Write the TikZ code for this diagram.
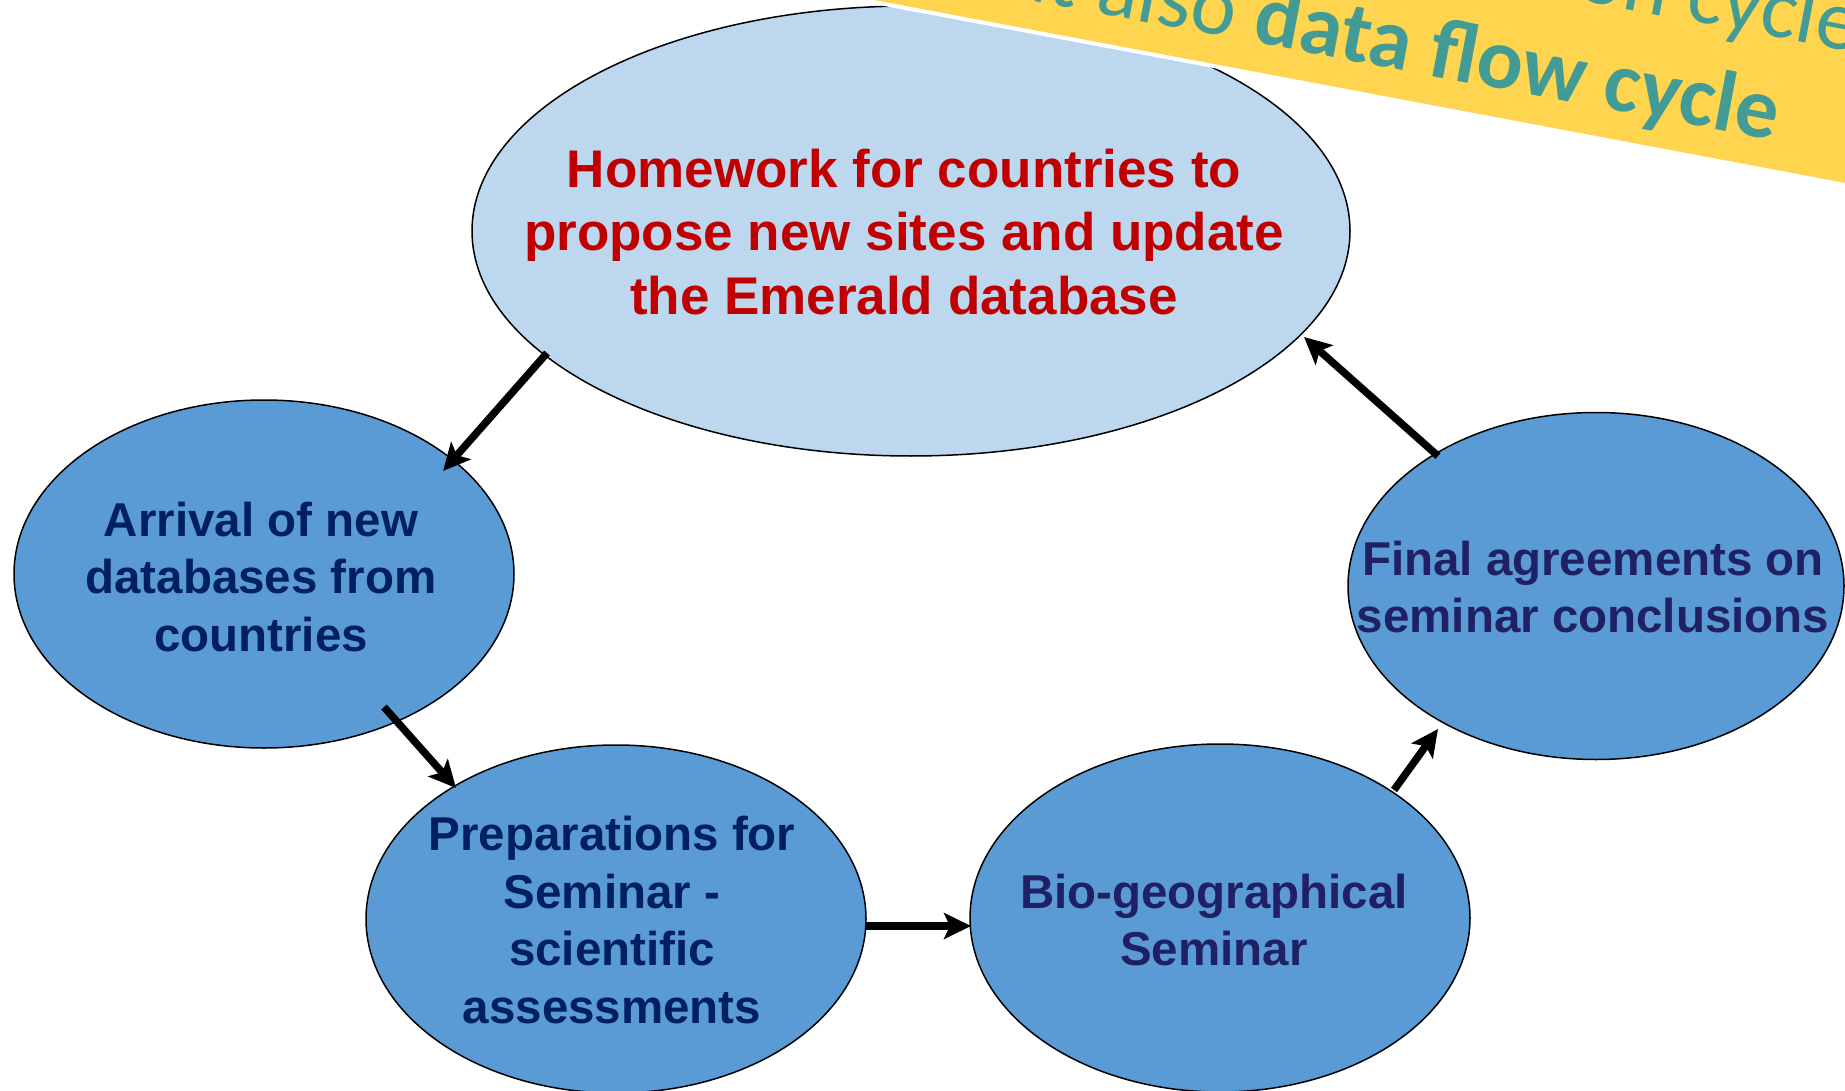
\documentclass[tikz,border=0pt]{standalone}
\usepackage{fontspec}
\setmainfont{Liberation Sans}
\newfontfamily\bannerfont{Carlito}
\usetikzlibrary{shapes.geometric,arrows.meta,calc}
\definecolor{darkfill}{RGB}{91,155,213}
\definecolor{lightfill}{RGB}{189,215,238}
\definecolor{redtext}{RGB}{192,0,0}
\definecolor{navytext}{RGB}{0,32,96}
\definecolor{indigotext}{RGB}{32,32,100}
\definecolor{tealtext}{RGB}{67,155,150}
\definecolor{bannerfill}{RGB}{255,213,79}
\tikzset{
  bubble/.style={ellipse, draw=black, line width=1.5pt, fill=darkfill, inner sep=0pt, outer sep=0pt,
    minimum width=500pt, minimum height=348pt},
  bubbletext/.style={align=center, inner sep=0pt, font={\bfseries\fontsize{47.5pt}{57.5pt}\selectfont}},
  flow/.style={line width=7.5pt, -{Stealth[length=27pt,width=26pt,inset=6pt]}},
  bannertext/.style={inner sep=0pt, outer sep=0pt, text=tealtext, rotate=-10.67,
    font={\bannerfont\fontsize{86pt}{102pt}\selectfont}},
}
\begin{document}
\begin{tikzpicture}[x=1pt,y=1pt]
\useasboundingbox (0,0) rectangle (1845,-1091);

% ellipses
\node[bubble, fill=lightfill, minimum width=878pt, minimum height=450pt] (top) at (911,-231) {};
\node[bubble] (arr)  at (264,-574) {};
\node[bubble] (prep) at (616,-919) {};
\node[bubble] (bio)  at (1220,-918) {};
\node[bubble, minimum width=496pt, minimum height=347pt] (fin) at (1596,-586) {};

% texts
\node[bubbletext, text=redtext, font={\bfseries\fontsize{53pt}{63.5pt}\selectfont}] (toptext) at (904,-232)
  {Homework for countries to\\propose new sites and update\\the Emerald database};
\node[bubbletext, text=navytext] (arrtext) at (261,-577) {Arrival of new\\databases from\\countries};
\node[bubbletext, text=navytext] (preptext) at (612,-920) {Preparations for\\Seminar -\\scientific\\assessments};
\node[bubbletext, text=indigotext] (biotext) at (1214,-920) {Bio-geographical\\Seminar};
\node[bubbletext, text=indigotext] (fintext) at (1593,-587) {Final agreements on\\seminar conclusions};

% connectors
\draw[flow] ([shift={(-364,-122)}]top.center) -- ([shift={(179,103)}]arr.center);
\draw[flow] ([shift={(120,-133)}]arr.center) -- ([shift={(-160,131)}]prep.center);
\draw[flow] ([shift={(250,-7)}]prep.center) -- ([shift={(-249,-8)}]bio.center);
\draw[flow] ([shift={(174,128)}]bio.center) -- ([shift={(-158,-143)}]fin.center);
\draw[flow] ([shift={(-158,130)}]fin.center) -- ([shift={(393,-106)}]top.center);

% banner
\fill[bannerfill, draw=white, line width=4pt] (800,11.9) -- (1900,-195.4) -- (1900,80) -- (800,80) -- cycle;
\node[bannertext, anchor=base west] (b2) at (1251,-42) {\bfseries data flow cycle};
\node[bannertext, anchor=base east] (b2a) at (b2.base west) {but also\kern0.226em};
\node[bannertext, anchor=base west] (b1) at (1684,-20) {cycle};
\node[bannertext, anchor=base east] (b1a) at (b1.base west) {evaluation\kern0.226em};
\end{tikzpicture}
\end{document}
